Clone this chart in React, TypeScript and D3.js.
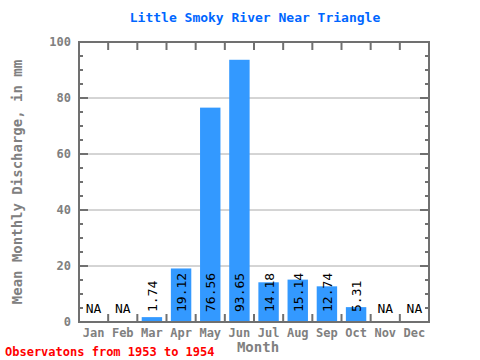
import React from "react";
import * as d3 from "d3";

const months = ["Jan", "Feb", "Mar", "Apr", "May", "Jun", "Jul", "Aug", "Sep", "Oct", "Nov", "Dec"];
const values: (number | null)[] = [null, null, 1.74, 19.12, 76.56, 93.65, 14.18, 15.14, 12.74, 5.31, null, null];
const yTicks = [0, 20, 40, 60, 80, 100];
const title = "Little Smoky River Near Triangle";
const yLabel = "Mean Monthly Discharge, in mm";
const xLabel = "Month";
const footer = "Observatons from 1953 to 1954";

const W = 480, H = 360;
const left = 79, right = 429, top = 42, bottom = 322;
const font = "'DejaVu Sans Mono', monospace";
const axisColor = "#707070";

export default function App() {
  const x = d3.scaleBand<string>().domain(months).range([left, right]).paddingInner(0.3).paddingOuter(0.15);
  const xb = d3.scaleBand<string>().domain(months).range([left, right]);
  const y = d3.scaleLinear().domain([0, 100]).range([bottom, top]);
  const minor = d3.range(0, 101, 5);
  return (
    <svg width={W} height={H} style={{ position: "absolute", left: 0, top: 0 }}>
      <rect width={W} height={H} fill="#fff" />
      <text x={255} y={22} textAnchor="middle" fill="#0066ff" fontFamily={font} fontWeight="bold" fontSize={13}>{title}</text>
      {yTicks.filter(t => t > 0 && t < 100).map(t => (
        <line key={t} x1={left} x2={right} y1={y(t)} y2={y(t)} stroke="#aaaaaa" strokeWidth={1} />
      ))}
      {months.map((m, i) => {
        const v = values[i];
        const cx = xb(m)! + xb.bandwidth() / 2;
        return (
          <g key={m}>
            {v !== null && (
              <rect x={x(m)!} y={y(v)} width={x.bandwidth()} height={bottom - y(v)} fill="#3399ff" />
            )}
            {v !== null ? (
              <text transform={`translate(${cx + 5},${bottom - 10}) rotate(-90)`} fontFamily={font} fontSize={13} fill="#000">{v.toFixed(2)}</text>
            ) : (
              <text x={cx} y={bottom - 9} textAnchor="middle" fontFamily={font} fontSize={13} fill="#000">NA</text>
            )}
          </g>
        );
      })}
      <rect x={left} y={top} width={right - left} height={bottom - top} fill="none" stroke={axisColor} strokeWidth={2} />
      {minor.map(t => {
        const major = t % 20 === 0;
        return (
          <g key={t}>
            <line x1={left} x2={left + (major ? 9 : 4)} y1={y(t)} y2={y(t)} stroke={axisColor} strokeWidth={2} />
            <line x1={right} x2={right - (major ? 9 : 4)} y1={y(t)} y2={y(t)} stroke={axisColor} strokeWidth={2} />
          </g>
        );
      })}
      {months.slice(1).map(m => (
        <g key={m}>
          <line x1={xb(m)!} x2={xb(m)!} y1={bottom} y2={bottom - 8} stroke={axisColor} strokeWidth={2} />
          <line x1={xb(m)!} x2={xb(m)!} y1={top} y2={top + 8} stroke={axisColor} strokeWidth={2} />
        </g>
      ))}
      {yTicks.map(t => (
        <text key={t} x={71} y={y(t) + 4} textAnchor="end" fontFamily={font} fontWeight="bold" fontSize={12} fill="#808080">{t}</text>
      ))}
      {months.map(m => (
        <text key={m} x={xb(m)! + xb.bandwidth() / 2} y={337} textAnchor="middle" fontFamily={font} fontWeight="bold" fontSize={12} fill="#808080">{m}</text>
      ))}
      <text x={258} y={352} textAnchor="middle" fontFamily={font} fontWeight="bold" fontSize={14} fill="#808080">{xLabel}</text>
      <text transform={`translate(22,${(top + bottom) / 2}) rotate(-90)`} textAnchor="middle" fontFamily={font} fontWeight="bold" fontSize={14} fill="#808080">{yLabel}</text>
      <text x={5} y={356} fontFamily={font} fontWeight="bold" fontSize={12} fill="#ff0000">{footer}</text>
    </svg>
  );
}
